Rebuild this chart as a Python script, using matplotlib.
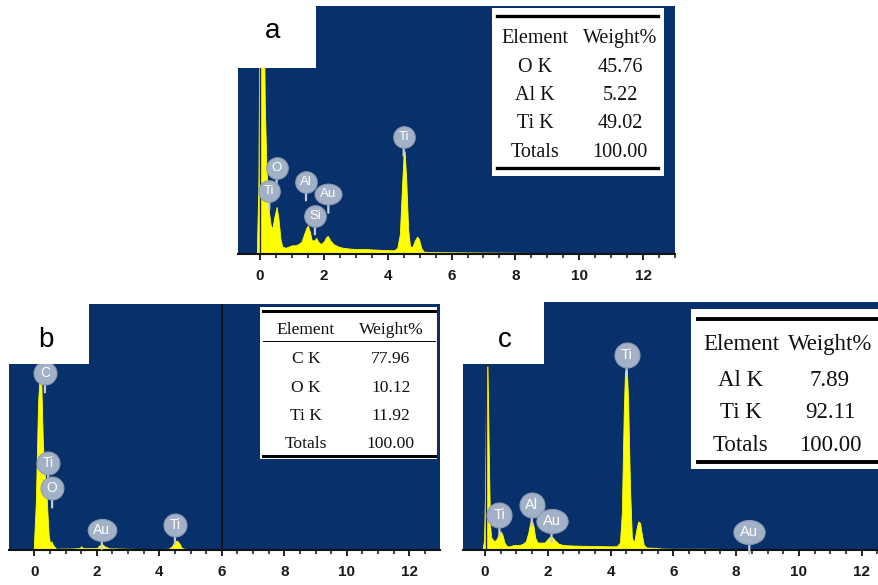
import numpy as np
import matplotlib
matplotlib.use('Agg')
import matplotlib.pyplot as plt
from matplotlib.patches import Rectangle
from matplotlib.lines import Line2D
from matplotlib.path import Path
from matplotlib.transforms import Affine2D
from matplotlib.ticker import FixedLocator

# ---------------- data ----------------
# spectrum (a): energy keV, intensity (% of panel height)
energy_a = [-0.1, -0.05, 0.0, 0.05, 0.1, 0.15, 0.2, 0.27, 0.33, 0.38, 0.45, 0.52, 0.58, 0.64, 0.7,
            0.8, 0.9, 1.0, 1.1, 1.2, 1.3, 1.38, 1.45, 1.5, 1.56, 1.62, 1.7, 1.76, 1.82, 1.9, 2.0,
            2.08, 2.13, 2.2, 2.3, 2.45, 2.6, 2.8, 3.0, 3.3, 3.6, 3.9, 4.2, 4.3, 4.38, 4.44, 4.5,
            4.53, 4.58, 4.64, 4.7, 4.78, 4.85, 4.92, 4.98, 5.05, 5.12, 5.3, 6.0, 7.0, 8.0, 8.7, 8.8]
counts_a = [0, 30, 150, 150, 120, 60, 35, 18, 12, 10, 15, 19, 14, 6, 3,
            2.5, 3, 3.5, 3.5, 4, 5, 8, 10.5, 11.5, 9, 5.5, 5.5, 6.5, 5, 4, 5,
            7, 7.2, 5.5, 4, 3, 2.5, 2.2, 2, 2, 1.8, 1.6, 1.5, 2.5, 8, 25, 41,
            41.5, 30, 10, 3, 3, 5.5, 7, 6, 2.5, 1, 0.8, 0.7, 0.6, 0.5, 0.4, 0]

# spectrum (b)
energy_b = [-0.02, 0.05, 0.12, 0.18, 0.22, 0.27, 0.32, 0.38, 0.42, 0.46, 0.5, 0.55, 0.6, 0.7,
            0.9, 1.2, 1.45, 1.5, 1.55, 2.0, 2.1, 2.17, 2.25, 2.4, 3.0, 3.5, 4.0, 4.3, 4.4,
            4.5, 4.57, 4.65, 4.72, 4.8, 5.1, 5.2]
counts_b = [0, 20, 60, 73, 70, 45, 32, 25, 15, 6, 3, 3.5, 2, 0.5,
            0.6, 0.6, 0.8, 1.5, 0.8, 0.8, 2.0, 2.4, 1.5, 0.7, 0.5, 0.4, 0.4, 0.5, 1.5,
            3.5, 3.8, 2.5, 0.8, 0.5, 0.3, 0]

# spectrum (c)
energy_c = [-0.08, -0.03, 0.0, 0.03, 0.05, 0.08, 0.12, 0.16, 0.2, 0.3, 0.38, 0.45, 0.5, 0.56, 0.62,
            0.7, 0.8, 0.9, 1.0, 1.1, 1.2, 1.3, 1.38, 1.44, 1.49, 1.54, 1.6, 1.68, 1.8, 1.9, 2.0,
            2.08, 2.14, 2.22, 2.35, 2.5, 2.8, 3.1, 3.5, 3.9, 4.2, 4.3, 4.36, 4.42, 4.46, 4.52,
            4.56, 4.62, 4.68, 4.75, 4.82, 4.88, 4.94, 5.0, 5.06, 5.15, 5.4, 5.6, 6.0, 7.0, 8.0,
            8.5, 9.1, 9.2]
counts_c = [0, 4, 22, 60, 74, 74, 40, 10, 5, 3.5, 4.5, 7, 7.5, 6, 3,
            1.5, 1.5, 2, 2, 2, 2.5, 3.5, 7, 11, 12, 10, 5, 3, 3, 3, 4.5,
            5.5, 5.3, 4, 2.5, 2, 1.8, 1.7, 1.6, 1.5, 1.5, 3, 15, 55, 72, 72.5,
            60, 25, 5, 3, 8, 11.5, 11, 6, 2, 1, 0.9, 0.6, 0.5, 0.5, 0.4,
            0.4, 0.3, 0]

# peak labels (element, energy, height %)
badges_a = [('O', 0.52, 34.7), ('Ti', 0.29, 25.4), ('Al', 1.44, 29.0), ('Au', 2.14, 24.0),
            ('Si', 1.72, 15.3), ('Ti', 4.50, 47.0)]
badges_b = [('C', 0.34, 72.0), ('Ti', 0.44, 35.4), ('O', 0.57, 25.2), ('Au', 2.16, 8.3),
            ('Ti', 4.50, 10.3)]
badges_c = [('Ti', 4.51, 78.8), ('Ti', 0.46, 14.0), ('Al', 1.49, 18.3), ('Au', 2.12, 11.6),
            ('Au', 8.42, 7.1)]

# composition tables
elements_a = ['O K', 'Al K', 'Ti K', 'Totals']
weights_a = ['45.76', '5.22', '49.02', '100.00']
elements_b = ['C K', 'O K', 'Ti K', 'Totals']
weights_b = ['77.96', '10.12', '11.92', '100.00']
elements_c = ['Al K', 'Ti K', 'Totals']
weights_c = ['7.89', '92.11', '100.00']

tick_values = [0, 2, 4, 6, 8, 10, 12]

# ---------------- style ----------------
W, H = 879, 585
NAVY = '#08306a'
YELLOW = '#ffff00'
BADGE = '#a3b1c6'
SANS = 'Liberation Sans'
SERIF = 'Liberation Serif'

fig = plt.figure(figsize=(W / 100, H / 100), dpi=100)
fig.patch.set_facecolor('white')


def px_rect(x0, y0, x1, y1):
    return [x0 / W, 1 - y1 / H, (x1 - x0) / W, (y1 - y0) / H]


def fx(x):
    return x / W


def fy(y):
    return 1 - y / H


circ = Path.unit_circle()
ellipse = Path(Affine2D().scale(1.3, 1.0).transform(circ.vertices), circ.codes)


def panel(rect, xlim, energy, counts, badges, cut_w, cut_h, bsize, bfs):
    ax = fig.add_axes(px_rect(*rect))
    ax.set_facecolor(NAVY)
    ax.set_xlim(*xlim)
    ax.set_ylim(0, 100)
    ax.fill_between(energy, counts, 0, color=YELLOW, lw=0.6, edgecolor=YELLOW, zorder=2)
    for s in ['top', 'left', 'right']:
        ax.spines[s].set_visible(False)
    ax.spines['bottom'].set_linewidth(1.5)
    ax.spines['bottom'].set_color('#111111')
    ax.set_yticks([])
    ax.xaxis.set_major_locator(FixedLocator(tick_values))
    ax.xaxis.set_minor_locator(FixedLocator(np.arange(0, 13.01, 0.5)))
    ax.tick_params(axis='x', which='major', direction='out', length=4.5, width=1.3, color='#111111',
                   pad=6, labelsize=11, labelcolor='#1a1a1a')
    ax.tick_params(axis='x', which='minor', direction='out', length=3, width=1.1, color='#111111')
    ax.set_xticklabels([str(v) for v in tick_values], fontweight='bold', family=SANS)
    # white cut-out at top-left
    ax.add_patch(Rectangle((-0.05, 1 - cut_h), cut_w + 0.05, cut_h + 0.01, transform=ax.transAxes,
                           facecolor='white', edgecolor='none', clip_on=False, zorder=6))
    for lab, x, y in badges:
        ax.annotate('', xy=(x, y), xytext=(0, -bsize * 0.85), textcoords='offset points',
                    arrowprops=dict(arrowstyle='-', color='#c4ccd8', lw=1.6, shrinkA=0, shrinkB=0),
                    zorder=3)
        if lab == 'Au':
            ax.plot([x], [y], marker=ellipse, ms=bsize * 1.25, mfc=BADGE, mec='#8d9bb2', mew=0.8,
                    zorder=4, clip_on=False)
        else:
            ax.plot([x], [y], marker='o', ms=bsize, mfc=BADGE, mec='#8d9bb2', mew=0.8,
                    zorder=4, clip_on=False)
        ax.text(x, y, lab, color='white', ha='center', va='center', fontsize=bfs,
                family=SANS, zorder=5)
    return ax


ax_a = panel((238, 6, 675, 254), (-0.69, 13.0), energy_a, counts_a, badges_a,
             78 / 437, 62 / 248, 15.5, 9.5)
ax_a.axvline(0.0, color='#2a2a2a', lw=1.0, zorder=3)
ax_b = panel((9, 304, 440, 550), (-0.81, 12.98), energy_b, counts_b, badges_b,
             80 / 431, 60 / 246, 16.5, 10)
ax_b.axvline(6.0, color='#111111', lw=1.2, zorder=1.5)
ax_c = panel((463, 302, 878, 550), (-0.70, 12.52), energy_c, counts_c, badges_c,
             81 / 415, 62 / 248, 18, 10.5)
ax_c.axvline(0.02, color='#2a2a2a', lw=1.0, zorder=3)

# panel letters
for lab, x, y in [('a', 273, 38), ('b', 46, 347), ('c', 505, 347)]:
    fig.text(fx(x), fy(y), lab, fontsize=20, family=SANS, ha='center', va='baseline', zorder=10)


def table(box, thick_y, thick_x, lw_thick, thin_y, header_y, row_ys, col_x, elements, weights, fs):
    x0, y0, x1, y1 = box
    fig.patches.append(Rectangle((fx(x0), fy(y1)), (x1 - x0) / W, (y1 - y0) / H,
                                 transform=fig.transFigure, facecolor='white',
                                 edgecolor='none', zorder=7))
    for yy in thick_y:
        fig.lines.append(Line2D([fx(thick_x[0]), fx(thick_x[1])], [fy(yy), fy(yy)],
                                transform=fig.transFigure, color='black', lw=lw_thick, zorder=8))
    if thin_y is not None:
        fig.lines.append(Line2D([fx(thick_x[0]), fx(thick_x[1])], [fy(thin_y), fy(thin_y)],
                                transform=fig.transFigure, color='black', lw=0.7, zorder=8))
    fig.text(fx(col_x[0]), fy(header_y), 'Element', fontsize=fs, family=SERIF,
             ha='center', va='baseline', zorder=9, color='#111111')
    fig.text(fx(col_x[1]), fy(header_y), 'Weight%', fontsize=fs, family=SERIF,
             ha='center', va='baseline', zorder=9, color='#111111')
    for e, w, yy in zip(elements, weights, row_ys):
        fig.text(fx(col_x[0]), fy(yy), e, fontsize=fs, family=SERIF,
                 ha='center', va='baseline', zorder=9, color='#111111')
        fig.text(fx(col_x[1]), fy(yy), w, fontsize=fs, family=SERIF,
                 ha='center', va='baseline', zorder=9, color='#111111')


table((492, 8, 664, 176), (16, 168), (497, 658), 2.4, None, 42.7,
      [71.7, 100, 128.3, 156.7], (535, 620), elements_a, weights_a, 14.5)
table((260, 307, 437, 459), (311, 456), (263, 435), 2.2, 341, 334,
      [363, 391.7, 420, 447.7], (306, 391), elements_b, weights_b, 12.6)
table((691, 309, 879, 469), (319, 462), (698, 877), 2.8, None, 350,
      [386, 418.3, 450.7], (741, 830), elements_c, weights_c, 16.5)

fig.savefig('out.png', dpi=100, facecolor='white')
